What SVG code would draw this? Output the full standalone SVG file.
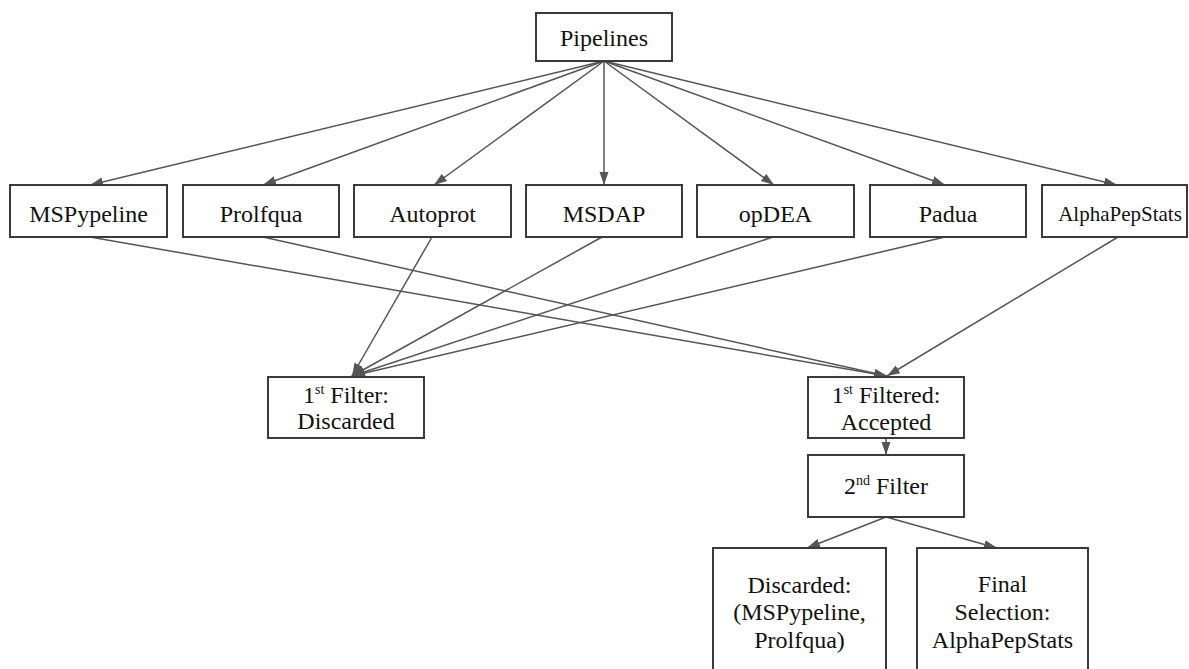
<svg xmlns="http://www.w3.org/2000/svg" width="1189" height="669" viewBox="0 0 1189 669">
<style>
.box{fill:#fff;stroke:#3a3a3a;stroke-width:2}
.t{font-family:'Liberation Serif','Times New Roman',serif;font-size:24px;fill:#111;text-anchor:middle}
.s{font-size:21px}
.sup{font-size:14px}
.c{stroke:#555;stroke-width:1.5;fill:none;marker-end:url(#ah)}
</style>
<defs>
<marker id="ah" markerUnits="userSpaceOnUse" markerWidth="14" markerHeight="10" refX="13" refY="4.5" orient="auto">
<path d="M0,0 L13,4.5 L0,9 z" fill="#555"/>
</marker>
</defs>
<rect width="1189" height="669" fill="#fff"/>
<g id="connectors">
<line class="c" x1="604" y1="61" x2="90" y2="185"/>
<line class="c" x1="604" y1="61" x2="263" y2="185"/>
<line class="c" x1="604" y1="61" x2="434" y2="185"/>
<line class="c" x1="604" y1="61" x2="604" y2="185"/>
<line class="c" x1="604" y1="61" x2="774" y2="185"/>
<line class="c" x1="604" y1="61" x2="945" y2="185"/>
<line class="c" x1="604" y1="61" x2="1117" y2="185"/>
<line class="c" x1="90" y1="237" x2="887" y2="376"/>
<line class="c" x1="263" y1="237" x2="887" y2="376"/>
<line class="c" x1="1118" y1="237" x2="887" y2="376"/>
<line class="c" x1="432" y1="237" x2="352" y2="376"/>
<line class="c" x1="602" y1="237" x2="352" y2="376"/>
<line class="c" x1="773" y1="237" x2="352" y2="376"/>
<line class="c" x1="945" y1="237" x2="352" y2="376"/>
<line class="c" x1="886" y1="438" x2="886" y2="455"/>
<line class="c" x1="886" y1="517" x2="807" y2="548"/>
<line class="c" x1="886" y1="517" x2="997" y2="548"/>
</g>
<g id="pipelines"><rect class="box" x="536" y="13" width="136" height="48"/><text class="t" x="604" y="46">Pipelines</text></g>
<g id="mspypeline"><rect class="box" x="10" y="185" width="157" height="52"/><text class="t" x="88.5" y="222">MSPypeline</text></g>
<g id="prolfqua"><rect class="box" x="183" y="185" width="156" height="52"/><text class="t" x="261" y="222">Prolfqua</text></g>
<g id="autoprot"><rect class="box" x="354" y="185" width="157" height="52"/><text class="t" x="432.5" y="222">Autoprot</text></g>
<g id="msdap"><rect class="box" x="526" y="185" width="156" height="52"/><text class="t" x="604" y="222">MSDAP</text></g>
<g id="opdea"><rect class="box" x="697" y="185" width="157" height="52"/><text class="t" x="775.5" y="222">opDEA</text></g>
<g id="padua"><rect class="box" x="870" y="185" width="156" height="52"/><text class="t" x="948" y="222">Padua</text></g>
<g id="alphapepstats"><rect class="box" x="1042" y="185" width="145" height="52"/><text class="t s" x="1120" y="221">AlphaPepStats</text></g>
<g id="filter1-discarded"><rect class="box" x="268" y="377" width="156" height="61"/>
<text class="t" x="346" y="403">1<tspan class="sup" dy="-9">st</tspan><tspan dy="9"> Filter:</tspan></text>
<text class="t" x="346" y="429">Discarded</text></g>
<g id="filter1-accepted"><rect class="box" x="808" y="377" width="156" height="61"/>
<text class="t" x="886" y="403">1<tspan class="sup" dy="-9">st</tspan><tspan dy="9"> Filtered:</tspan></text>
<text class="t" x="886" y="430">Accepted</text></g>
<g id="filter2"><rect class="box" x="808" y="455" width="156" height="62"/>
<text class="t" x="886" y="494">2<tspan class="sup" dy="-9">nd</tspan><tspan dy="9"> Filter</tspan></text></g>
<g id="discarded2"><rect class="box" x="713" y="548" width="173" height="130"/>
<text class="t" x="799.5" y="593">Discarded:</text>
<text class="t" x="799.5" y="620">(MSPypeline,</text>
<text class="t" x="799.5" y="648">Prolfqua)</text></g>
<g id="final"><rect class="box" x="917" y="548" width="171" height="130"/>
<text class="t" x="1002.5" y="592">Final</text>
<text class="t" x="1002.5" y="620">Selection:</text>
<text class="t" x="1002.5" y="648">AlphaPepStats</text></g>
</svg>
